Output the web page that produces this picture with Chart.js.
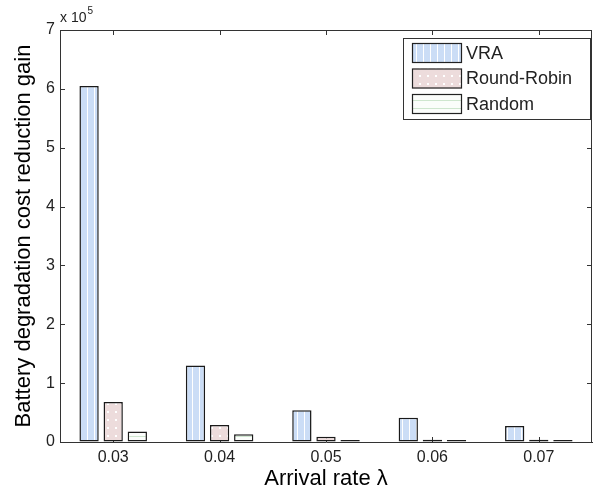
<!DOCTYPE html>
<html>
<head>
<meta charset="utf-8">
<script src="https://cdn.jsdelivr.net/npm/chart.js@4"></script>
<style>
  html, body { margin: 0; padding: 0; background: #fff; }
  #wrap { width: 602px; height: 495px; position: relative; }
</style>
</head>
<body>
<div id="wrap"><canvas id="gain-chart" width="602" height="495"></canvas></div>
<script>
// values (y axis is x 10^5)
const arrivalRates = ['0.03', '0.04', '0.05', '0.06', '0.07'];
const vraGain = [605000, 130000, 54000, 41000, 27000];
const roundRobinGain = [68000, 29000, 9000, 4000, 4000];
const randomGain = [18000, 13000, 3500, 3500, 3500];
const yTicks = [0, 1, 2, 3, 4, 5, 6, 7];
const seriesNames = ['VRA', 'Round-Robin', 'Random'];

const AXIS = '#333';
const TEXT = '#222';
const FONT = '"Liberation Sans", Arial, sans-serif';

// small tiled fills like the hatched MATLAB bars
function makePattern(w, h, draw) {
    const c = document.createElement('canvas');
    c.width = w; c.height = h;
    draw(c.getContext('2d'));
    return document.getElementById('gain-chart').getContext('2d').createPattern(c, 'repeat');
}
const stripeFill = makePattern(7, 7, g => {
    g.fillStyle = '#cbddf6'; g.fillRect(0, 0, 7, 7);
    g.fillStyle = '#ffffff'; g.fillRect(3, 0, 1, 7);
});
const dotFill = makePattern(8, 8, g => {
    g.fillStyle = '#eddcdc'; g.fillRect(0, 0, 8, 8);
    g.fillStyle = '#ffffff'; g.fillRect(3, 3, 2, 2);
});
const lineFill = makePattern(8, 8, g => {
    g.fillStyle = '#fbfdfb'; g.fillRect(0, 0, 8, 8);
    g.fillStyle = '#cfe6cf'; g.fillRect(0, 4, 8, 1);
});
const fills = [stripeFill, dotFill, lineFill];

// inward ticks + closing box (top/right), drawn under the bars
const boxTicks = {
    id: 'boxTicks',
    beforeDatasetsDraw(chart) {
        const { ctx, chartArea: a, scales } = chart;
        ctx.save();
        ctx.strokeStyle = AXIS;
        ctx.lineWidth = 1;
        ctx.beginPath();
        ctx.moveTo(a.left, a.top + 0.5); ctx.lineTo(a.right, a.top + 0.5);
        ctx.moveTo(a.right - 0.5, a.top); ctx.lineTo(a.right - 0.5, a.bottom);
        scales.y.ticks.forEach(t => {
            const y = Math.round(scales.y.getPixelForValue(t.value)) + 0.5;
            ctx.moveTo(a.left, y); ctx.lineTo(a.left + 5, y);
            ctx.moveTo(a.right, y); ctx.lineTo(a.right - 5, y);
        });
        arrivalRates.forEach((_, i) => {
            const x = Math.round(scales.x.getPixelForValue(i)) + 0.5;
            ctx.moveTo(x, a.bottom); ctx.lineTo(x, a.bottom - 5);
            ctx.moveTo(x, a.top); ctx.lineTo(x, a.top + 5);
        });
        ctx.stroke();
        ctx.restore();
    },
    afterDraw(chart) {
        const { ctx, chartArea: a } = chart;
        ctx.save();
        // exponent label
        ctx.fillStyle = TEXT;
        ctx.textBaseline = 'alphabetic';
        ctx.font = '14px ' + FONT;
        ctx.fillText('x 10', a.left, 22);
        const w = ctx.measureText('x 10').width;
        ctx.font = '10px ' + FONT;
        ctx.fillText('5', a.left + w + 1, 14);

        // legend box in the upper right
        const lx = 403, ly = 38, lw = 187, lh = 81;
        ctx.fillStyle = '#fff';
        ctx.fillRect(lx, ly, lw, lh);
        ctx.strokeStyle = AXIS;
        ctx.lineWidth = 1;
        ctx.strokeRect(lx + 0.5, ly + 0.5, lw, lh);
        ctx.font = '18px ' + FONT;
        ctx.textBaseline = 'middle';
        seriesNames.forEach((name, i) => {
            const sy = 43 + i * 25.5;
            ctx.fillStyle = fills[i];
            ctx.fillRect(412, sy, 50, 20);
            ctx.strokeStyle = '#222';
            ctx.lineWidth = 1.2;
            ctx.strokeRect(412.5, sy + 0.5, 49, 19);
            ctx.fillStyle = TEXT;
            ctx.fillText(name, 466, sy + 11);
        });
        ctx.restore();
    }
};

const ctx = document.getElementById('gain-chart').getContext('2d');
new Chart(ctx, {
    type: 'bar',
    data: {
        labels: arrivalRates,
        datasets: [vraGain, roundRobinGain, randomGain].map((d, i) => ({
            label: seriesNames[i],
            data: d,
            backgroundColor: fills[i],
            borderColor: '#1a1a1a',
            borderWidth: 1.5,
            borderSkipped: false,
            categoryPercentage: 0.68,
            barPercentage: 0.8
        }))
    },
    options: {
        responsive: false,
        animation: false,
        layout: { padding: { top: 30, right: 10, left: 0, bottom: 0 } },
        plugins: { legend: { display: false }, tooltip: { enabled: false } },
        scales: {
            x: {
                grid: { display: true, drawOnChartArea: false, drawTicks: false },
                border: { display: true, color: AXIS, width: 1 },
                ticks: { color: TEXT, padding: 6, font: { family: FONT, size: 16 } },
                title: {
                    display: true, text: 'Arrival rate λ', color: '#000',
                    font: { family: FONT, size: 22 },
                    padding: { top: 0, bottom: 3 }
                },
                afterFit(scale) { scale.height = 53; }
            },
            y: {
                min: 0, max: 700000,
                afterBuildTicks(scale) { scale.ticks = yTicks.map(v => ({ value: v * 1e5 })); },
                grid: { display: true, drawOnChartArea: false, drawTicks: false },
                border: { display: true, color: AXIS, width: 1 },
                ticks: {
                    color: TEXT, padding: 5,
                    font: { family: FONT, size: 16 },
                    callback: v => String(v / 1e5)
                },
                title: {
                    display: true, text: 'Battery degradation cost reduction gain', color: '#000',
                    font: { family: FONT, size: 22 },
                    padding: { top: 11, bottom: 0 }
                },
                afterFit(scale) { scale.width = 60; }
            }
        }
    },
    plugins: [boxTicks]
});
</script>
</body>
</html>
